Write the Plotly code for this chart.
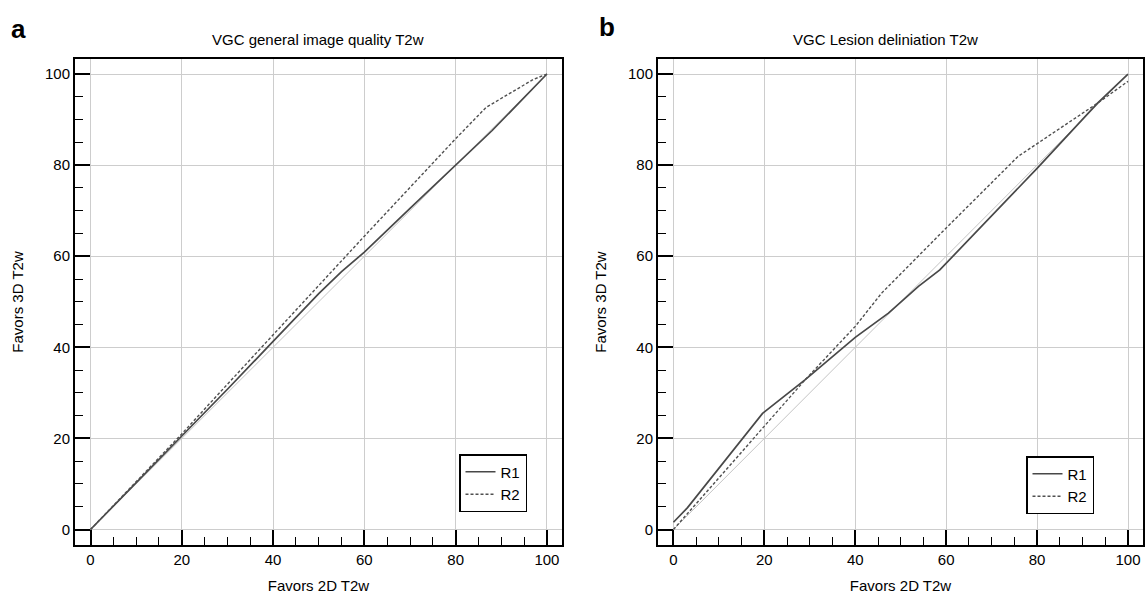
import plotly.graph_objects as go

# Panel a: VGC general image quality T2w
a_r1_x = [0, 10, 20, 30, 40, 50, 55, 60, 70, 80, 88, 100]
a_r1_y = [0, 10.3, 20.4, 30.8, 41.3, 51.8, 56.6, 60.9, 70.5, 80.0, 87.6, 100]
a_r2_x = [0, 10, 20, 30, 40, 50, 60, 70, 80, 86.7, 97, 100]
a_r2_y = [0, 10.4, 21.0, 31.9, 42.8, 53.7, 64.4, 75.1, 85.8, 92.7, 98.8, 100]

# Panel b: VGC Lesion deliniation T2w
b_r1_x = [0, 3.1, 19.6, 29, 40, 47.3, 53.9, 58.6, 80.1, 93.3, 100]
b_r1_y = [1.6, 4.8, 25.5, 32.9, 42.2, 47.5, 53.4, 57.0, 79.4, 93.6, 100]
b_r2_x = [0, 19.6, 29, 40, 45.8, 60, 75.8, 93.3, 100]
b_r2_y = [0, 22.3, 32.9, 44.6, 51.9, 66.2, 81.9, 93.6, 98.4]

diag = [0, 100]
ticks = [0, 20, 40, 60, 80, 100]

FONT = "Liberation Sans, Arial, sans-serif"
R1C = "#484848"
R2C = "#505050"
W, H = 1145, 602
FS = 15

fig = go.Figure()

panels = [
    ("x", "y", "legend", a_r1_x, a_r1_y, a_r2_x, a_r2_y),
    ("x2", "y2", "legend2", b_r1_x, b_r1_y, b_r2_x, b_r2_y),
]
for xa, ya, lg, r1x, r1y, r2x, r2y in panels:
    fig.add_trace(go.Scatter(x=diag, y=diag, mode="lines", xaxis=xa, yaxis=ya,
                             line=dict(color="#c4c4c4", width=1), showlegend=False,
                             hoverinfo="skip"))
    fig.add_trace(go.Scatter(x=r1x, y=r1y, mode="lines", name="R1", xaxis=xa, yaxis=ya,
                             legend=lg, line=dict(color=R1C, width=1.7)))
    fig.add_trace(go.Scatter(x=r2x, y=r2y, mode="lines", name="R2", xaxis=xa, yaxis=ya,
                             legend=lg, line=dict(color=R2C, width=1.4, dash="3px,2px")))

axis_common = dict(
    range=[-3.4, 103.3], tickvals=ticks, showline=True, mirror=True, linecolor="black",
    linewidth=2, ticks="inside", ticklen=15, tickwidth=2, tickcolor="black",
    minor=dict(ticks="inside", ticklen=8, tickwidth=1, tickcolor="black", dtick=5,
               showgrid=False),
    showgrid=True, gridcolor="#cdcdcd", gridwidth=1, zeroline=False, automargin=False,
    tickfont=dict(family=FONT, size=FS, color="black"),
    title_font=dict(family=FONT, size=FS, color="black"),
)

ydom = [1 - 545 / H, 1 - 59 / H]
fig.update_layout(
    width=W, height=H,
    margin=dict(l=0, r=0, t=0, b=0, autoexpand=False),
    paper_bgcolor="white", plot_bgcolor="white",
    font=dict(family=FONT, color="black"),
    xaxis=dict(domain=[75 / W, 562 / W], anchor="y", title=dict(text="Favors 2D T2w", standoff=13), **axis_common),
    yaxis=dict(domain=ydom, anchor="x", title=dict(text="Favors 3D T2w", standoff=18), **axis_common),
    xaxis2=dict(domain=[658 / W, 1143 / W], anchor="y2", title=dict(text="Favors 2D T2w", standoff=13), **axis_common),
    yaxis2=dict(domain=ydom, anchor="x2", title=dict(text="Favors 3D T2w", standoff=18), **axis_common),
    legend=dict(x=459 / W, y=1 - 512 / H, xanchor="left", yanchor="bottom", bgcolor="white",
                bordercolor="black", borderwidth=1.5, font=dict(family=FONT, size=FS, color="black"),
                tracegroupgap=0),
    legend2=dict(x=1026 / W, y=1 - 514 / H, xanchor="left", yanchor="bottom", bgcolor="white",
                 bordercolor="black", borderwidth=1.5, font=dict(family=FONT, size=FS, color="black"),
                 tracegroupgap=0),
    annotations=[
        dict(text="VGC general image quality T2w", x=318 / W, y=1 - 40 / H, xref="paper", yref="paper",
             xanchor="center", yanchor="middle", showarrow=False,
             font=dict(family=FONT, size=FS, color="black")),
        dict(text="VGC Lesion deliniation T2w", x=885 / W, y=1 - 40 / H, xref="paper", yref="paper",
             xanchor="center", yanchor="middle", showarrow=False,
             font=dict(family=FONT, size=FS, color="black")),
        dict(text="<b>a</b>", x=18 / W, y=1 - 29 / H, xref="paper", yref="paper", showarrow=False,
             xanchor="center", yanchor="middle", font=dict(family=FONT, size=26, color="black")),
        dict(text="<b>b</b>", x=607 / W, y=1 - 27 / H, xref="paper", yref="paper", showarrow=False,
             xanchor="center", yanchor="middle", font=dict(family=FONT, size=26, color="black")),
    ],
)

fig.write_html("out.html", config={"displayModeBar": False},
               post_script="document.body.style.margin='0';")
